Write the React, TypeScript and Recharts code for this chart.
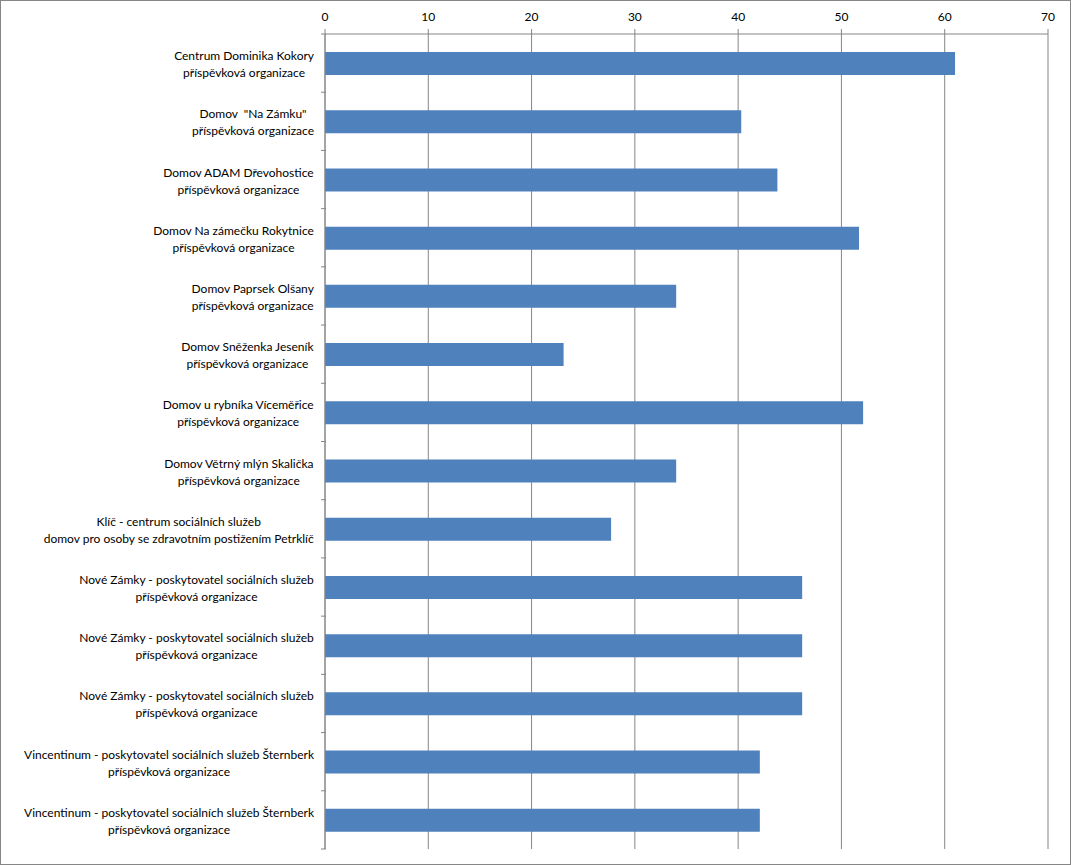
import React from "react";
import { BarChart, Bar, XAxis, YAxis, CartesianGrid } from "recharts";

// first line of each category label
const orgNames = [
  "Centrum Dominika Kokory",
  "Domov  \"Na Zámku\"",
  "Domov ADAM Dřevohostice",
  "Domov Na zámečku Rokytnice",
  "Domov Paprsek Olšany",
  "Domov Sněženka Jeseník",
  "Domov u rybníka Víceměřice",
  "Domov Větrný mlýn Skalička",
  "Klíč - centrum sociálních služeb",
  "Nové Zámky - poskytovatel sociálních služeb",
  "Nové Zámky - poskytovatel sociálních služeb",
  "Nové Zámky - poskytovatel sociálních služeb",
  "Vincentinum - poskytovatel sociálních služeb Šternberk",
  "Vincentinum - poskytovatel sociálních služeb Šternberk",
];

// second line of each category label
const orgUnits = [
  "příspěvková organizace",
  "příspěvková organizace",
  "příspěvková organizace",
  "příspěvková organizace",
  "příspěvková organizace",
  "příspěvková organizace",
  "příspěvková organizace",
  "příspěvková organizace",
  "domov pro osoby se zdravotním postižením Petrklíč",
  "příspěvková organizace",
  "příspěvková organizace",
  "příspěvková organizace",
  "příspěvková organizace",
  "příspěvková organizace",
];

const values = [61, 40.3, 43.8, 51.7, 34, 23.1, 52.1, 34, 27.7, 46.2, 46.2, 46.2, 42.1, 42.1];

const xTicks = [0, 10, 20, 30, 40, 50, 60, 70];

const W = 1071;
const H = 865;
const LEFT = 325;
const TOP = 34;
const BOTTOM = 16;
const RIGHT = 23;
const FONT = "Lato, 'Open Sans', sans-serif";
const FONT_SIZE = 12;
const GRID = "#868686";

const data = values.map((v, i) => ({ id: i, value: v }));

let ctx: CanvasRenderingContext2D | null = null;
function textWidth(s: string) {
  if (!ctx) ctx = document.createElement("canvas").getContext("2d");
  if (!ctx) return s.length * 6;
  ctx.font = `${FONT_SIZE}px Lato`;
  return ctx.measureText(s).width;
}

function OrgTick(props: any) {
  const { y, payload, index } = props;
  const i = payload.value as number;
  const band = (H - TOP - BOTTOM) / orgNames.length;
  const l1 = orgNames[i];
  const l2 = orgUnits[i];
  const w = Math.max(textWidth(l1), textWidth(l2));
  const cx = LEFT - 12 - w / 2;
  return (
    <g>
      <line x1={LEFT - 5} x2={LEFT} y1={y - band / 2} y2={y - band / 2} stroke={GRID} />
      {index === orgNames.length - 1 && (
        <line x1={LEFT - 5} x2={LEFT} y1={y + band / 2} y2={y + band / 2} stroke={GRID} />
      )}
      <text
        textAnchor="middle"
        fontFamily={FONT}
        fontSize={FONT_SIZE}
        fill="#000"
        style={{ whiteSpace: "pre" }}
      >
        <tspan x={cx} y={y - 3}>{l1}</tspan>
        <tspan x={cx} y={y + 14}>{l2}</tspan>
      </text>
    </g>
  );
}

export default function App() {
  return (
    <div
      style={{
        position: "absolute",
        left: 0,
        top: 0,
        width: W,
        height: H,
        boxSizing: "border-box",
        border: `1px solid ${GRID}`,
        background: "#fff",
      }}
    >
      <BarChart
        width={W - 2}
        height={H - 2}
        data={data}
        layout="vertical"
        margin={{ top: 0, right: RIGHT - 1, bottom: BOTTOM - 1, left: 0 }}
        barCategoryGap={0}
      >
        <CartesianGrid horizontal={false} vertical stroke={GRID} strokeWidth={1} />
        <XAxis
          type="number"
          orientation="top"
          domain={[0, 70]}
          ticks={xTicks}
          height={TOP - 1}
          axisLine={{ stroke: GRID }}
          tickLine={{ stroke: GRID }}
          tickSize={5}
          tickMargin={8}
          tick={{ fill: "#000", fontSize: FONT_SIZE, fontFamily: FONT }}
          interval={0}
        />
        <YAxis
          type="category"
          dataKey="id"
          width={LEFT - 1}
          axisLine={{ stroke: GRID }}
          tickLine={false}
          tickSize={0}
          tickMargin={0}
          interval={0}
          tick={<OrgTick />}
        />
        <Bar dataKey="value" fill="#4F81BD" barSize={23} isAnimationActive={false} />
      </BarChart>
    </div>
  );
}
